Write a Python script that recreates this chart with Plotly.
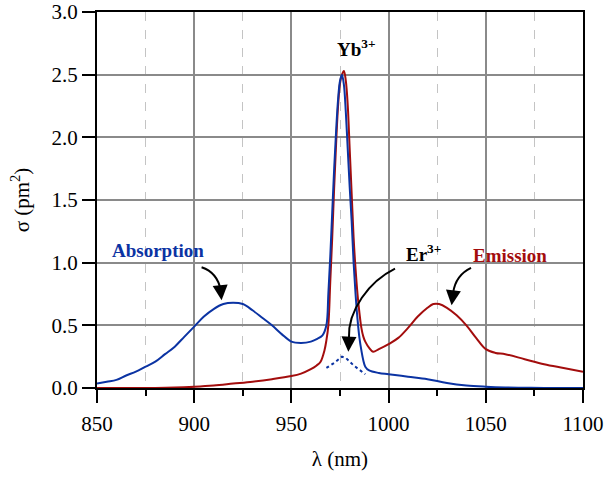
import plotly.graph_objects as go

abs_x = [850, 855, 860, 865, 870, 875, 880, 885, 890, 895, 900, 905, 910, 915, 920, 925, 930, 935, 940,
         945, 950, 955, 960, 963, 966, 968, 969, 970, 971, 972, 973, 974, 975, 976, 977, 978, 979, 980,
         981, 982, 983, 984, 985, 986, 987, 988, 990, 995, 1000, 1010, 1020, 1030, 1040, 1050, 1060,
         1070, 1080, 1100]
abs_y = [0.035, 0.05, 0.065, 0.1, 0.13, 0.17, 0.21, 0.27, 0.33, 0.41, 0.49, 0.57, 0.63, 0.67, 0.68,
         0.67, 0.62, 0.56, 0.5, 0.43, 0.37, 0.36, 0.37, 0.39, 0.42, 0.5, 0.75, 1.05, 1.4, 1.75, 2.05,
         2.3, 2.45, 2.5, 2.42, 2.2, 1.9, 1.6, 1.33, 1.0, 0.75, 0.55, 0.4, 0.3, 0.22, 0.17, 0.14, 0.12,
         0.11, 0.09, 0.07, 0.04, 0.02, 0.01, 0.004, 0.002, 0.0, 0.0]

em_x = [850, 880, 890, 900, 910, 920, 930, 940, 950, 955, 960, 963, 965, 967, 968, 969, 970, 971, 972,
        973, 974, 975, 976, 977, 978, 979, 980, 981, 982, 983, 984, 985, 986, 987, 988, 990, 992, 995,
        1000, 1005, 1010, 1015, 1020, 1023, 1026, 1030, 1035, 1040, 1045, 1050, 1055, 1060, 1070, 1080,
        1090, 1100]
em_y = [0.0, 0.0, 0.003, 0.01, 0.02, 0.035, 0.05, 0.07, 0.095, 0.115, 0.15, 0.18, 0.21, 0.3, 0.38,
        0.5, 0.85, 1.2, 1.6, 1.95, 2.25, 2.43, 2.5, 2.53, 2.45, 2.25, 1.9, 1.55, 1.2, 0.95, 0.75, 0.6,
        0.48, 0.41, 0.37, 0.32, 0.29, 0.31, 0.35, 0.4, 0.48, 0.57, 0.64, 0.67, 0.67, 0.64, 0.58, 0.5,
        0.4, 0.31, 0.28, 0.27, 0.23, 0.19, 0.16, 0.13]

er_x = [968, 972, 976, 978, 982, 986, 988]
er_y = [0.16, 0.2, 0.25, 0.24, 0.18, 0.13, 0.11]

x_ticks = [850, 900, 950, 1000, 1050, 1100]
y_ticks = [0.0, 0.5, 1.0, 1.5, 2.0, 2.5, 3.0]

BLUE = "#0b33a3"
RED = "#a30d0d"
FONT = "Liberation Serif"

fig = go.Figure()
fig.add_trace(go.Scatter(x=em_x, y=em_y, mode="lines", line=dict(color=RED, width=2), line_shape="spline"))
fig.add_trace(go.Scatter(x=abs_x, y=abs_y, mode="lines", line=dict(color=BLUE, width=2), line_shape="spline"))
fig.add_trace(go.Scatter(x=er_x, y=er_y, mode="lines", line=dict(color=BLUE, width=2, dash="dot")))

# curved arrow bodies
fig.add_shape(type="path", xref="x", yref="y", path="M 903.8,0.963 Q 912,0.92 913.6,0.78",
              line=dict(color="black", width=2))
fig.add_shape(type="path", xref="x", yref="y", path="M 1003.3,0.952 C 990,0.85 979,0.62 979.6,0.40",
              line=dict(color="black", width=2))
fig.add_shape(type="path", xref="x", yref="y", path="M 1042.4,0.958 Q 1034.5,0.9 1033.2,0.76",
              line=dict(color="black", width=2))

arrows = [(914.1, 0.70, 913.6, 0.78), (979.3, 0.29, 979.6, 0.40), (1032.4, 0.66, 1033.2, 0.76)]
for x, y, ax, ay in arrows:
    fig.add_annotation(x=x, y=y, ax=ax, ay=ay, xref="x", yref="y", axref="x", ayref="y", text="",
                       showarrow=True, arrowhead=2, arrowsize=1.5, arrowwidth=2, arrowcolor="black")

labels = [(983.7, 2.71, "<b>Yb<sup>3+</sup></b>", "black"),
          (881.4, 1.095, "<b>Absorption</b>", BLUE),
          (1017.7, 1.08, "<b>Er<sup>3+</sup></b>", "black"),
          (1062.4, 1.055, "<b>Emission</b>", RED)]
for x, y, t, c in labels:
    fig.add_annotation(x=x, y=y, xref="x", yref="y", text=t, showarrow=False,
                       font=dict(family=FONT, size=19, color=c))

fig.update_layout(
    width=605, height=478,
    margin=dict(l=97, r=22, t=12, b=90),
    plot_bgcolor="white", paper_bgcolor="white",
    showlegend=False,
    font=dict(family=FONT, size=21, color="black"),
)
fig.update_xaxes(
    range=[850, 1100], tickvals=x_ticks, ticks="outside", ticklen=13, tickwidth=2, tickcolor="black",
    showline=True, linecolor="black", linewidth=2, mirror=True, automargin=False,
    ticklabeloverflow="allow", ticklabelstandoff=3,
    showgrid=True, gridcolor="#8a8a8a", gridwidth=2, zeroline=False,
    minor=dict(dtick=25, ticks="outside", ticklen=6, tickwidth=2, tickcolor="black",
               showgrid=True, gridcolor="#c4c4c4", gridwidth=1, griddash="dash"),
    title=dict(text="λ (nm)", font=dict(family=FONT, size=21), standoff=16),
    tickfont=dict(family=FONT, size=21),
)
fig.update_yaxes(
    range=[0, 3], tickvals=y_ticks, tickformat=".1f", ticks="outside", ticklen=13, tickwidth=2,
    tickcolor="black", showline=True, linecolor="black", linewidth=2, mirror=True, automargin=False,
    ticklabeloverflow="allow",
    showgrid=True, gridcolor="#8a8a8a", gridwidth=2, zeroline=False,
    title=dict(text="σ (pm<sup>2</sup>)", font=dict(family=FONT, size=21), standoff=16),
    tickfont=dict(family=FONT, size=21),
)

fig.write_html("out.html")
